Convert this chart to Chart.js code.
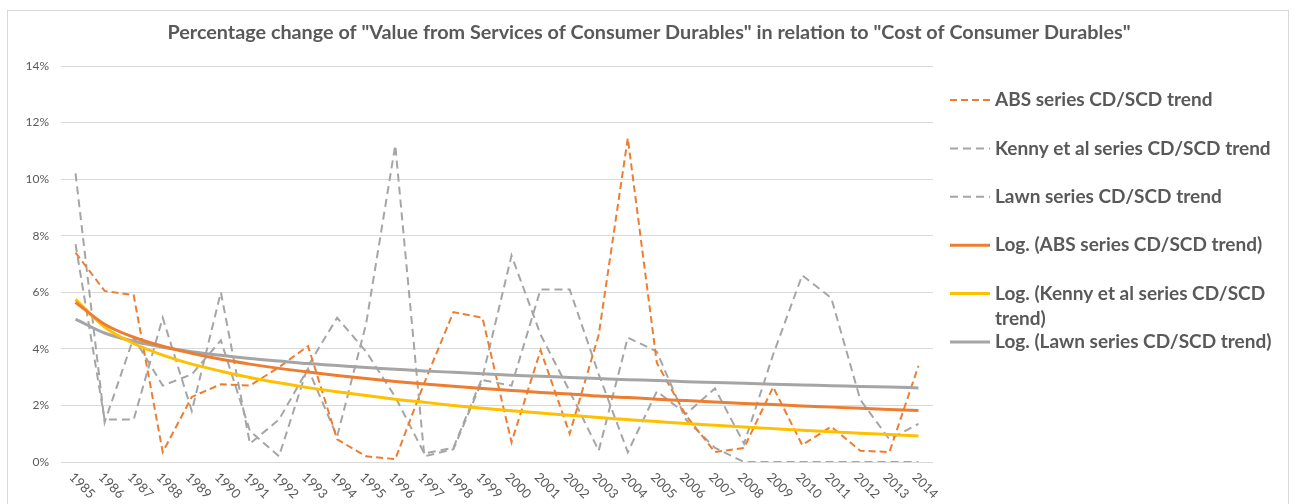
<!DOCTYPE html>
<html>
<head>
<meta charset="utf-8">
<title>Consumer Durables</title>
<script src="https://cdn.jsdelivr.net/npm/chart.js@4.4.1/dist/chart.umd.min.js"></script>
<style>
    body { margin: 0; background: #fff; }
    canvas { display: block; }
</style>
</head>
<body>
<canvas id="grafico" width="1294" height="504"></canvas>
<script>
const anos = ['1985', '1986', '1987', '1988', '1989', '1990', '1991', '1992', '1993', '1994',
    '1995', '1996', '1997', '1998', '1999', '2000', '2001', '2002', '2003', '2004',
    '2005', '2006', '2007', '2008', '2009', '2010', '2011', '2012', '2013', '2014'];

// valores em %
const absSeries = [7.4, 6.05, 5.9, 0.35, 2.3, 2.75, 2.7, 3.35, 4.1, 0.8, 0.2, 0.1, 2.8, 5.3, 5.1,
    0.7, 3.95, 1.0, 4.5, 11.45, 3.5, 1.65, 0.35, 0.5, 2.65, 0.6, 1.25, 0.4, 0.35, 3.4];
const kennySeries = [10.2, 1.4, 4.4, 2.7, 3.1, 4.3, 1.1, 0.2, 3.4, 5.1, 3.9, 2.3, 0.3, 0.5, 3.0,
    7.3, 4.5, 2.5, 0.4, 4.4, 3.9, 1.5, 0.5, 0, 0, 0, 0, 0, 0, 0];
const lawnSeries = [7.7, 1.5, 1.5, 5.1, 1.8, 6.0, 0.65, 1.5, 3.3, 0.9, 4.9, 11.2, 0.2, 0.45, 2.9,
    2.7, 6.1, 6.1, 3.1, 0.35, 2.5, 1.7, 2.6, 0.65, 3.8, 6.6, 5.8, 2.2, 0.8, 1.35];

// linhas de tendência (log)
const absLog = [5.65, 4.87, 4.41, 4.09, 3.84, 3.63, 3.46, 3.31, 3.18, 3.06, 2.95, 2.85, 2.76, 2.68, 2.60,
    2.53, 2.46, 2.40, 2.33, 2.28, 2.22, 2.17, 2.12, 2.07, 2.03, 1.98, 1.94, 1.90, 1.86, 1.82];
const kennyLog = [5.75, 4.77, 4.19, 3.78, 3.46, 3.21, 2.99, 2.80, 2.63, 2.48, 2.35, 2.22, 2.11, 2.00, 1.90,
    1.81, 1.73, 1.65, 1.57, 1.50, 1.43, 1.36, 1.30, 1.24, 1.18, 1.12, 1.07, 1.02, 0.97, 0.92];
const lawnLog = [5.05, 4.56, 4.27, 4.06, 3.90, 3.77, 3.66, 3.57, 3.48, 3.41, 3.34, 3.28, 3.22, 3.17, 3.12,
    3.07, 3.03, 2.99, 2.95, 2.91, 2.88, 2.84, 2.81, 2.78, 2.75, 2.72, 2.70, 2.67, 2.65, 2.62];

const percentTicks = [0, 2, 4, 6, 8, 10, 12, 14];

const tituloGrafico = 'Percentage change of "Value from Services of Consumer Durables" in relation to "Cost of Consumer Durables"';

const textColor = '#595959';
const gridColor = '#d9d9d9';
const fontFamily = 'Lato, "Open Sans", sans-serif';

const wrapText = (ctx, text, maxWidth) => {
    const words = text.split(' ');
    var lines = [];
    var line = '';
    words.forEach(w => {
        const test = line ? line + ' ' + w : w;
        if (ctx.measureText(test).width > maxWidth && line) {
            lines.push(line);
            line = w;
        } else {
            line = test;
        }
    });
    lines.push(line);
    return lines;
}

// moldura, título, rótulos do eixo x e legenda
const extras = {
    id: 'extras',
    beforeDraw(chart) {
        const ctx = chart.ctx;
        ctx.save();
        ctx.strokeStyle = gridColor;
        ctx.lineWidth = 1;
        ctx.strokeRect(7.5, 10.5, 1281, 500);
        ctx.restore();
    },
    afterDraw(chart) {
        const ctx = chart.ctx;
        const xScale = chart.scales.x;
        ctx.save();

        ctx.fillStyle = textColor;
        ctx.font = 'bold 19.8px ' + fontFamily;
        ctx.textAlign = 'center';
        ctx.textBaseline = 'middle';
        ctx.fillText(tituloGrafico, 649, 33);

        // anos inclinados para baixo
        ctx.font = '13px ' + fontFamily;
        ctx.textAlign = 'left';
        chart.data.labels.forEach((ano, i) => {
            const x = xScale.getPixelForTick(i);
            ctx.save();
            ctx.translate(x - 4, chart.chartArea.bottom + 13);
            ctx.rotate(Math.PI / 4);
            ctx.fillText(ano, 0, 0);
            ctx.restore();
        });

        ctx.font = 'bold 19px ' + fontFamily;
        var y = 100;
        chart.data.datasets.forEach(ds => {
            ctx.save();
            ctx.strokeStyle = ds.borderColor;
            ctx.lineWidth = ds.borderWidth;
            ctx.setLineDash(ds.borderDash || []);
            ctx.beginPath();
            ctx.moveTo(950, y);
            ctx.lineTo(990, y);
            ctx.stroke();
            ctx.restore();
            const lines = wrapText(ctx, ds.label, 292);
            lines.forEach((l, j) => ctx.fillText(l, 995, y + j * 25));
            y += 48.4;
        });

        ctx.restore();
    }
};

const ctx = document.getElementById('grafico').getContext('2d');

const myChart = new Chart(ctx, {
    type: 'line',
    data: {
        labels: anos,
        datasets: [
            { label: 'ABS series CD/SCD trend', data: absSeries, borderColor: '#ED7D31', borderWidth: 2, borderDash: [7, 4], order: 1 },
            { label: 'Kenny et al series CD/SCD trend', data: kennySeries, borderColor: '#A5A5A5', borderWidth: 2, borderDash: [8, 5], order: 1 },
            { label: 'Lawn series CD/SCD trend', data: lawnSeries, borderColor: '#A5A5A5', borderWidth: 2, borderDash: [8, 5], order: 1 },
            { label: 'Log. (ABS series CD/SCD trend)', data: absLog, borderColor: '#ED7D31', borderWidth: 3, cubicInterpolationMode: 'monotone', order: 0 },
            { label: 'Log. (Kenny et al series CD/SCD trend)', data: kennyLog, borderColor: '#FFC000', borderWidth: 3, cubicInterpolationMode: 'monotone', order: 0 },
            { label: 'Log. (Lawn series CD/SCD trend)', data: lawnLog, borderColor: '#A5A5A5', borderWidth: 3, cubicInterpolationMode: 'monotone', order: 0 }
        ]
    },
    options: {
        responsive: false,
        animation: false,
        devicePixelRatio: 1,
        layout: { padding: { top: 66, right: 361, bottom: 0, left: 0 } },
        elements: { point: { radius: 0 }, line: { fill: false } },
        plugins: {
            legend: { display: false },
            title: { display: false },
            tooltip: { enabled: false }
        },
        scales: {
            x: {
                offset: true,
                grid: { display: false },
                border: { display: false },
                ticks: { display: false },
                afterFit: (scale) => { scale.height = 42; }
            },
            y: {
                min: 0,
                max: 14,
                afterBuildTicks: (scale) => { scale.ticks = percentTicks.map(v => ({ value: v })); },
                grid: { color: gridColor, drawTicks: false },
                border: { display: false },
                ticks: {
                    color: textColor,
                    font: { family: fontFamily, size: 12 },
                    padding: 12,
                    callback: (value) => value + '%'
                },
                afterFit: (scale) => { scale.width = 61; }
            }
        }
    },
    plugins: [extras]
});
</script>
</body>
</html>
